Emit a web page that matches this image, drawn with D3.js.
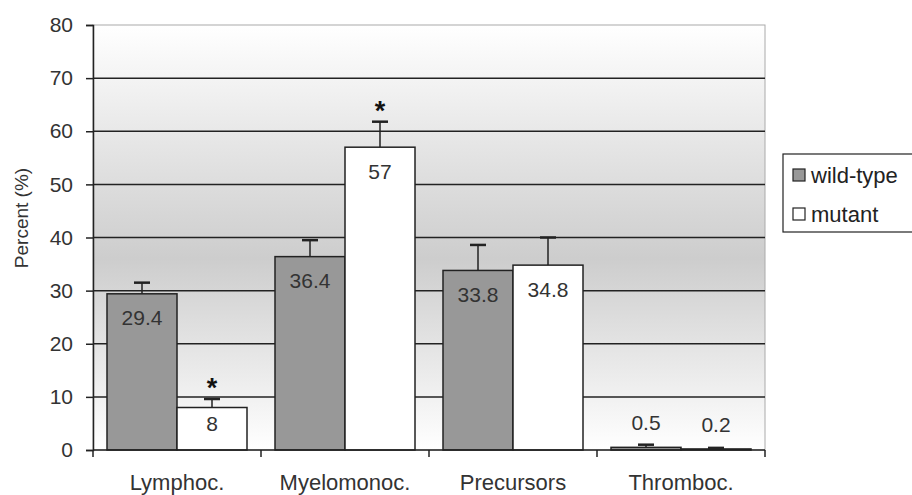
<!doctype html>
<html>
  <head>
    <script src="https://cdnjs.cloudflare.com/ajax/libs/d3/7.8.5/d3.min.js"></script>
    <style>
      body { margin: 0; background: #fff; }
      text { font-family: "Liberation Sans", Arial, sans-serif; fill: #333; }
      rect.bar { stroke: #222; stroke-width: 1.5; }
      line.grid { stroke: #222; stroke-width: 1.5; }
      line.err { stroke: #222; stroke-width: 1.5; }
    </style>
  </head>
  <body>
    <svg width="912" height="495"></svg>
    <script>
      var categories = ["Lymphoc.", "Myelomonoc.", "Precursors", "Thromboc."];
      var series = ["wild-type", "mutant"];
      var wildType = [29.4, 36.4, 33.8, 0.5];
      var mutant = [8, 57, 34.8, 0.2];
      var wildTypeErr = [2.1, 3.1, 4.8, 0.5];
      var mutantErr = [1.6, 4.8, 5.2, 0.2];
      var significant = [[false, true], [false, true], [false, false], [false, false]];
      var yTicks = [0, 10, 20, 30, 40, 50, 60, 70, 80];

      var colors = {"wild-type": "#989898", "mutant": "#ffffff"};

      var svg = d3.select("svg");
      var mLeft = 93, mRight = 765, mTop = 25, mBottom = 450;

      var x = d3.scaleBand().domain(categories).range([mLeft, mRight]).paddingInner(0).paddingOuter(0);
      var xs = d3.scaleBand().domain(series).range([0, x.bandwidth()]).paddingInner(0).paddingOuter(0.2);
      var y = d3.scaleLinear().domain([0, 80]).range([mBottom, mTop]);

      // background gradient
      var defs = svg.append("defs");
      var grad = defs.append("linearGradient").attr("id", "bg")
        .attr("x1", 0).attr("y1", 0).attr("x2", 0).attr("y2", 1);
      grad.append("stop").attr("offset", "0%").attr("stop-color", "#ffffff");
      grad.append("stop").attr("offset", "55%").attr("stop-color", "#cdcdcd");
      grad.append("stop").attr("offset", "100%").attr("stop-color", "#ffffff");

      svg.append("rect")
        .attr("x", mLeft).attr("y", mTop)
        .attr("width", mRight - mLeft).attr("height", mBottom - mTop)
        .attr("fill", "url(#bg)")
        .attr("stroke", "#aaa").attr("stroke-width", 1);

      svg.selectAll("line.grid").data(yTicks.filter(d => d > 0 && d < 80))
        .enter().append("line")
          .attr("class", "grid")
          .attr("x1", mLeft).attr("x2", mRight)
          .attr("y1", d => y(d)).attr("y2", d => y(d));

      var rows = categories.map((c, i) => ({
        cat: c,
        vals: [
          {s: "wild-type", v: wildType[i], e: wildTypeErr[i], sig: significant[i][0]},
          {s: "mutant", v: mutant[i], e: mutantErr[i], sig: significant[i][1]}
        ]
      }));

      var groups = svg.selectAll("g.cat").data(rows)
        .enter().append("g")
          .attr("class", "cat")
          .attr("transform", d => "translate(" + x(d.cat) + ",0)");

      var bars = groups.selectAll("g.b").data(d => d.vals)
        .enter().append("g").attr("class", "b");

      var cx = d => xs(d.s) + xs.bandwidth() / 2;

      bars.append("line")
        .attr("class", "err")
        .attr("x1", cx).attr("x2", cx)
        .attr("y1", d => y(d.v)).attr("y2", d => y(d.v + d.e));
      bars.append("line")
        .attr("class", "err")
        .attr("x1", d => cx(d) - 8)
        .attr("x2", d => cx(d) + 8)
        .attr("y1", d => y(d.v + d.e)).attr("y2", d => y(d.v + d.e))
        .style("stroke-width", 2.5);

      bars.append("rect")
        .attr("class", "bar")
        .attr("x", d => xs(d.s))
        .attr("y", d => y(d.v))
        .attr("width", xs.bandwidth())
        .attr("height", d => y(0) - y(d.v))
        .attr("fill", d => colors[d.s]);

      bars.append("text")
        .attr("x", cx)
        .attr("y", d => {
          if (d.v < 1) return y(d.v) - 17;
          var h = y(0) - y(d.v);
          return y(d.v) + Math.min(24, h * 0.38) + 7.5;
        })
        .attr("text-anchor", "middle")
        .style("font-size", "21px")
        .text(d => d.v);

      bars.filter(d => d.sig).append("text")
        .attr("x", cx)
        .attr("y", d => y(d.v + d.e) - 2)
        .attr("text-anchor", "middle")
        .style("font-size", "27px")
        .style("font-weight", "bold")
        .style("fill", "#111")
        .text("*");

      // axes
      var yAxis = svg.append("g")
        .attr("transform", "translate(" + mLeft + ",0)")
        .call(d3.axisLeft(y).tickValues(yTicks).tickSize(7).tickPadding(13));
      yAxis.select(".domain").attr("stroke", "#222").attr("stroke-width", 1.5);
      yAxis.selectAll(".tick line").attr("stroke", "#222").attr("stroke-width", 1.5);
      yAxis.selectAll(".tick text").style("font-size", "21px").attr("fill", "#333")
        .style("font-family", "'Liberation Sans', Arial, sans-serif");

      var xAxis = svg.append("g")
        .attr("transform", "translate(0," + mBottom + ")");
      xAxis.append("line")
        .attr("x1", mLeft).attr("x2", mRight).attr("y1", 0).attr("y2", 0)
        .attr("stroke", "#222").attr("stroke-width", 1.5);
      var bounds = categories.map(c => x(c)).concat([mRight]);
      xAxis.selectAll("line.tk").data(bounds)
        .enter().append("line")
          .attr("x1", d => d).attr("x2", d => d)
          .attr("y1", 0).attr("y2", 7)
          .attr("stroke", "#222").attr("stroke-width", 1.5);
      xAxis.selectAll("text").data(categories)
        .enter().append("text")
          .attr("x", d => x(d) + x.bandwidth() / 2)
          .attr("y", 40)
          .attr("text-anchor", "middle")
          .style("font-size", "22px")
          .text(d => d);

      svg.append("text")
        .attr("transform", "translate(28,218) rotate(-90)")
        .attr("text-anchor", "middle")
        .style("font-size", "19px")
        .text("Percent (%)");

      // legend
      var legend = svg.append("g").attr("transform", "translate(783,154)");
      legend.append("rect")
        .attr("width", 140).attr("height", 78)
        .attr("fill", "#fff").attr("stroke", "#222").attr("stroke-width", 1.2);
      var li = legend.selectAll("g.li").data(series)
        .enter().append("g")
          .attr("transform", (d, i) => "translate(10," + (21 + i * 39) + ")");
      li.append("rect")
        .attr("x", 0).attr("y", -6).attr("width", 12).attr("height", 12)
        .attr("fill", d => colors[d]).attr("stroke", "#222").attr("stroke-width", 1.2);
      li.append("text")
        .attr("x", 18).attr("y", 8)
        .style("font-size", "22px")
        .style("fill", "#222")
        .text(d => d);
    </script>
  </body>
</html>
